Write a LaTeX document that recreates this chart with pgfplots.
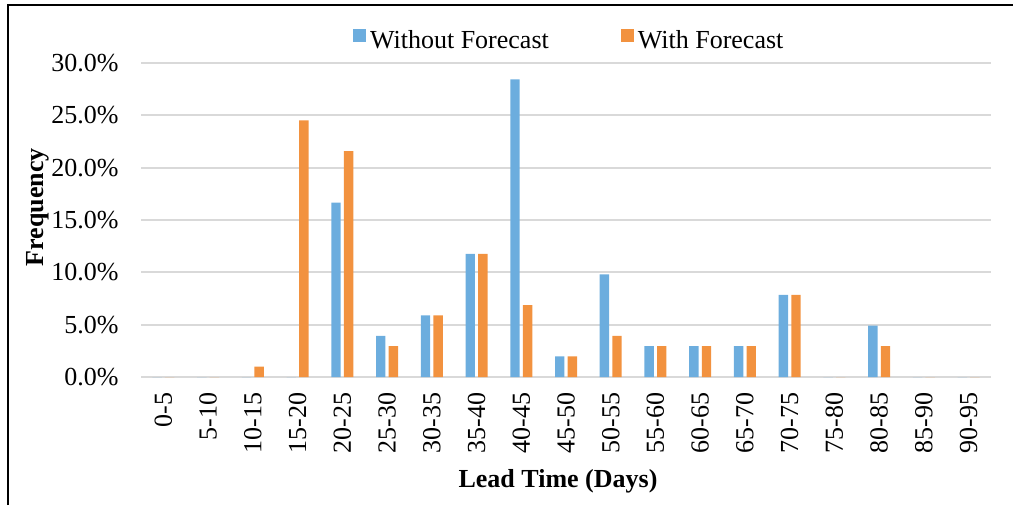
\documentclass[border=0pt]{standalone}
\usepackage{fontspec}
\setmainfont{Liberation Serif}
\usepackage{pgfplots}
\pgfplotsset{compat=1.18}
\usepackage{pgfplotstable}

\definecolor{noFc}{HTML}{6CADDE}
\definecolor{withFc}{HTML}{F2923F}
\definecolor{gridgray}{HTML}{D9D9D9}

% Share of orders per lead-time class (%), 102 orders in each scenario
\pgfplotstableread{
idx without with
0  0     0
1  0     0
2  0     0.98
3  0     24.51
4  16.67 21.57
5  3.92  2.94
6  5.88  5.88
7  11.76 11.76
8  28.43 6.86
9  1.96  1.96
10 9.80  3.92
11 2.94  2.94
12 2.94  2.94
13 2.94  2.94
14 7.84  7.84
15 0     0
16 4.90  2.94
17 0     0
18 0     0
}\leadtimes

\begin{document}
\fontsize{13}{15.6}\selectfont
\begin{tikzpicture}
\useasboundingbox (0,0) rectangle (509pt,252.5pt);
\draw[line width=1pt] (4pt,0pt) -- (4pt,250pt) -- (506.5pt,250pt);
\begin{axis}[
  at={(70.5pt,64pt)}, anchor=south west,
  scale only axis, width=425pt, height=157pt,
  ybar=1.6pt, bar width=4.7pt,
  enlargelimits=false,
  xmin=-0.5, xmax=18.5, ymin=0, ymax=30,
  xtick={0,...,18},
  xticklabels={0-5,5-10,10-15,15-20,20-25,25-30,30-35,35-40,40-45,45-50,50-55,55-60,60-65,65-70,70-75,75-80,80-85,85-90,90-95},
  ytick={0,5,...,30},
  yticklabels={0.0\%,5.0\%,10.0\%,15.0\%,20.0\%,25.0\%,30.0\%},
  axis line style={draw=none},
  major tick length=0pt,
  ymajorgrids, grid style={gridgray, line width=1pt},
  xticklabel style={rotate=90, anchor=east, inner sep=0pt},
  xticklabel shift=7.5pt,
  yticklabel style={anchor=east, inner sep=0pt},
  yticklabel shift=11pt,
  xlabel={\bfseries Lead Time (Days)},
  xlabel style={at={(axis description cs:0.4906,-0.333)}, anchor=center},
  ylabel={\bfseries Frequency},
  ylabel style={at={(axis description cs:-0.122,0.541)}, anchor=center},
  legend style={at={(axis description cs:0.5050,1.070)}, anchor=center,
    draw=none, fill=none, inner sep=0pt,
    legend columns=2,
    /tikz/every even column/.append style={column sep=34pt}},
  legend image code/.code={\fill[#1] (0pt,-0.5pt) rectangle (6.5pt,6pt);},
]
\addplot[fill=noFc, draw=none] table[x=idx, y=without] {\leadtimes};
\addplot[fill=withFc, draw=none] table[x=idx, y=with] {\leadtimes};
\legend{Without Forecast, With Forecast}
\end{axis}
\end{tikzpicture}
\end{document}
